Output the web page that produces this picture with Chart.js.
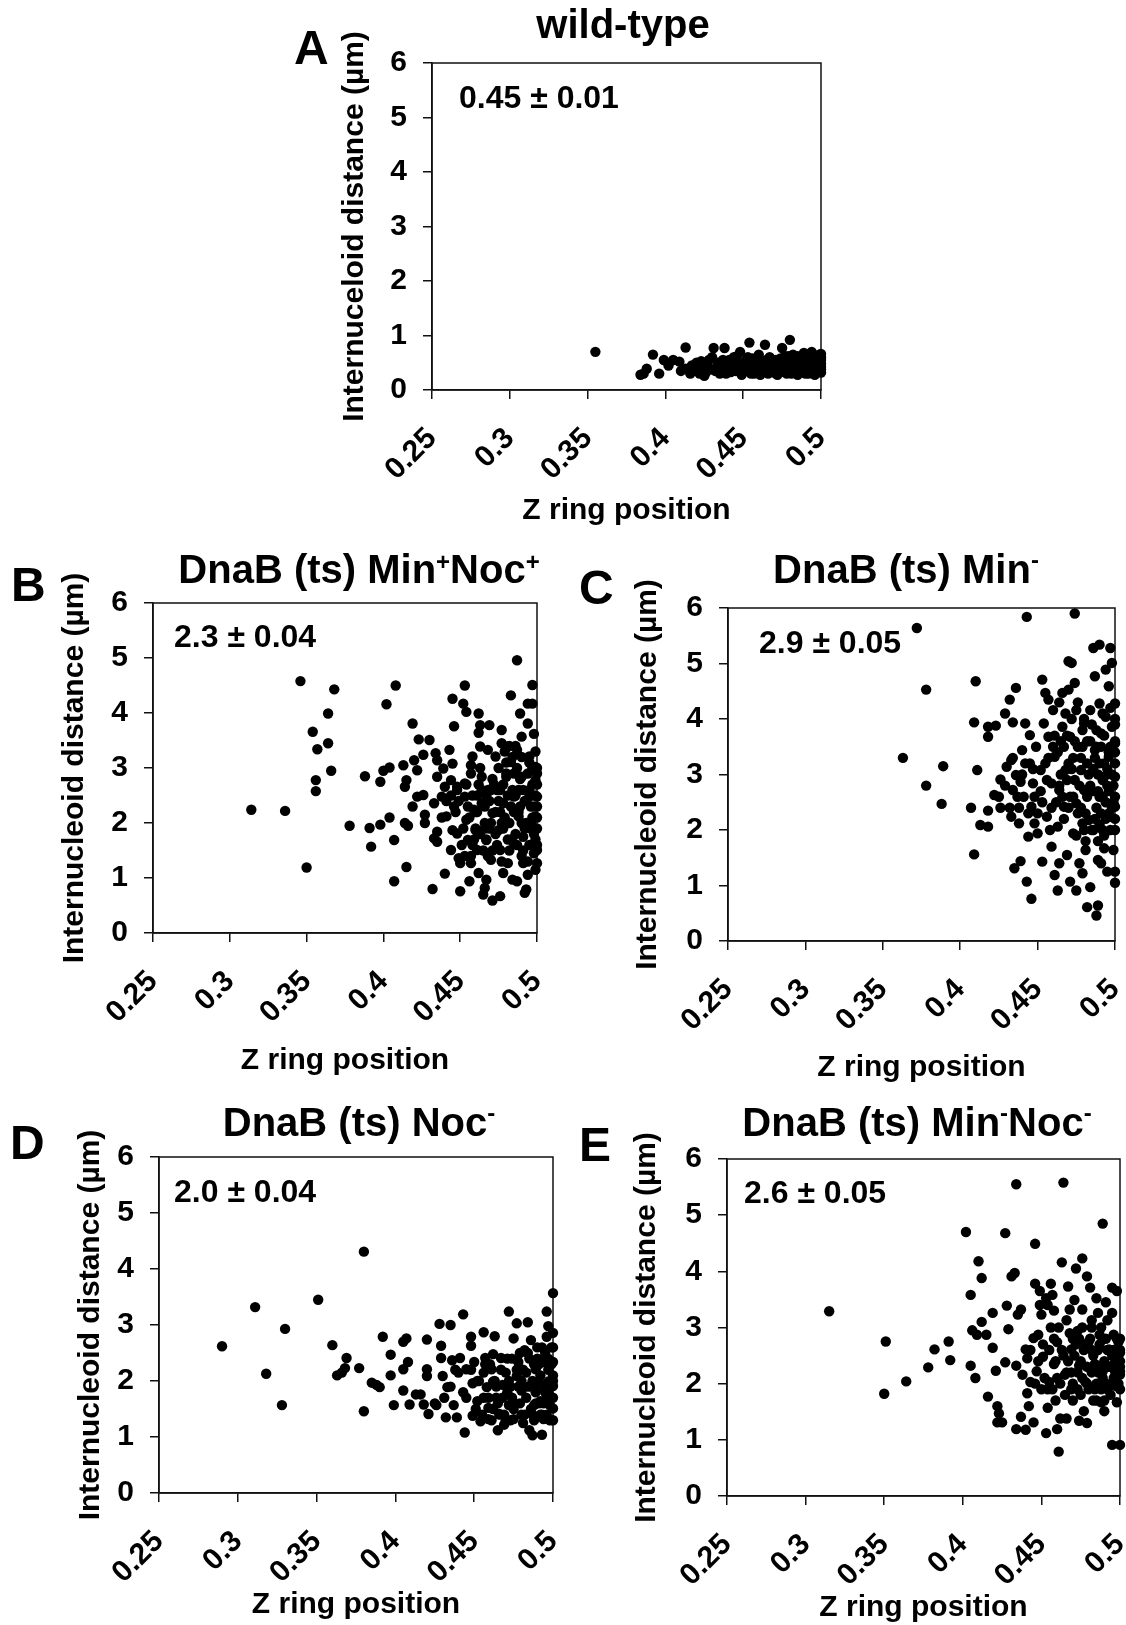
<!DOCTYPE html>
<html>
<head>
<meta charset="utf-8">
<script src="https://cdn.jsdelivr.net/npm/chart.js@4.4.1/dist/chart.umd.min.js"></script>
<style>
	body { margin: 0; width: 1126px; height: 1625px; background: #fff; position: relative; overflow: hidden;
		font-family: "Liberation Sans", Arial, sans-serif; font-weight: bold; color: #000; }
	canvas { position: absolute; }
	.txt { position: absolute; white-space: nowrap; line-height: 1; }
	.sp { position: relative; font-size: 0.6em; top: -0.55em; }
	.sm { position: relative; font-size: 0.6em; top: -0.65em; }
</style>
</head>
<body>
<script>
	'use strict';

	// Axis ticks (shared by all panels)
	const xTickVals = [0.25, 0.3, 0.35, 0.4, 0.45, 0.5];
	const xTickLabels = ['0.25', '0.3', '0.35', '0.4', '0.45', '0.5'];
	const yTickVals = [0, 1, 2, 3, 4, 5, 6];
	const yTickLabels = ['0', '1', '2', '3', '4', '5', '6'];

	const panelLetters = ['A', 'B', 'C', 'D', 'E'];
	const panelTitles = [
		'wild-type',
		'DnaB (ts) Min<span class="sp">+</span>Noc<span class="sp">+</span>',
		'DnaB (ts) Min<span class="sm">-</span>',
		'DnaB (ts) Noc<span class="sm">-</span>',
		'DnaB (ts) Min<span class="sm">-</span>Noc<span class="sm">-</span>'
	];
	const meanLabels = ['0.45 \u00b1 0.01', '2.3 \u00b1 0.04', '2.9 \u00b1 0.05', '2.0 \u00b1 0.04', '2.6 \u00b1 0.05'];
	const yTitles = ['Internuceloid distance (\u00b5m)', 'Internucleoid distance (\u00b5m)', 'Internucleoid distance (\u00b5m)',
		'Internucleoid distance (\u00b5m)', 'Internucleoid distance (\u00b5m)'];
	const xTitle = 'Z ring position';

	// [Z ring position, internucleoid distance]
	const wildTypePts = [
		[0.355,0.70],[0.384,0.28],[0.386,0.30],[0.388,0.39],[0.392,0.65],[0.396,0.30],[0.399,0.55],[0.402,0.45],
		[0.405,0.55],[0.409,0.52],[0.410,0.35],[0.413,0.78],[0.413,0.39],[0.416,0.30],[0.417,0.45],[0.418,0.35],
		[0.420,0.50],[0.421,0.38],[0.423,0.53],[0.424,0.40],[0.425,0.26],[0.426,0.32],[0.427,0.45],[0.428,0.55],
		[0.430,0.60],[0.431,0.77],[0.432,0.35],[0.433,0.42],[0.434,0.50],[0.436,0.42],[0.437,0.55],[0.438,0.77],
		[0.439,0.30],[0.440,0.38],[0.441,0.55],[0.443,0.45],[0.444,0.60],[0.445,0.35],[0.446,0.62],[0.447,0.48],
		[0.448,0.70],[0.449,0.28],[0.450,0.33],[0.451,0.50],[0.452,0.40],[0.453,0.60],[0.454,0.87],[0.455,0.30],
		[0.456,0.58],[0.457,0.30],[0.458,0.45],[0.459,0.35],[0.460,0.65],[0.461,0.28],[0.462,0.48],[0.463,0.52],
		[0.464,0.83],[0.465,0.40],[0.466,0.30],[0.467,0.60],[0.468,0.45],[0.469,0.40],[0.470,0.35],[0.471,0.55],
		[0.472,0.28],[0.473,0.48],[0.474,0.33],[0.475,0.77],[0.475,0.38],[0.476,0.52],[0.477,0.62],[0.478,0.30],
		[0.479,0.50],[0.480,0.92],[0.481,0.42],[0.482,0.65],[0.483,0.33],[0.484,0.55],[0.485,0.28],[0.486,0.45],
		[0.487,0.60],[0.488,0.38],[0.489,0.68],[0.490,0.30],[0.491,0.50],[0.492,0.42],[0.493,0.62],[0.494,0.70],
		[0.494,0.33],[0.495,0.55],[0.496,0.28],[0.497,0.45],[0.498,0.60],[0.498,0.38],[0.499,0.52],[0.500,0.66],
		[0.500,0.42],[0.500,0.32],[0.500,0.55],[0.500,0.48],
		[0.422,0.30],[0.429,0.38],[0.435,0.30],[0.442,0.33],[0.445,0.50],[0.450,0.42],[0.452,0.55],[0.455,0.40],
		[0.457,0.50],[0.459,0.55],[0.461,0.40],[0.463,0.35],[0.465,0.55],[0.467,0.38],[0.469,0.50],[0.471,0.30],
		[0.472,0.42],[0.474,0.58],[0.476,0.45],[0.478,0.40],[0.479,0.62],[0.481,0.30],[0.482,0.50],[0.484,0.38],
		[0.485,0.62],[0.487,0.33],[0.488,0.52],[0.490,0.44],[0.491,0.60],[0.492,0.30],[0.493,0.50],[0.495,0.40],
		[0.496,0.62],[0.497,0.33],[0.498,0.50],[0.499,0.42],[0.499,0.65],[0.500,0.38],[0.500,0.60],[0.440,0.48],
		[0.447,0.38],[0.453,0.35]
	];

	const minPlusNocPlusPts = [
		[0.314,2.24],[0.336,2.22],[0.346,4.58],[0.350,1.19],[0.354,3.66],[0.357,3.34],[0.356,2.78],[0.356,2.58],
		[0.364,3.45],[0.364,3.99],[0.366,2.95],[0.368,4.43],[0.378,1.95],[0.388,2.85],[0.391,1.91],[0.392,1.57],
		[0.398,2.75],[0.398,1.97],[0.400,2.95],[0.402,4.16],[0.404,3.01],[0.404,2.10],[0.407,1.69],[0.407,0.94],
		[0.408,4.50],[0.413,3.05],[0.414,2.66],[0.414,2.00],[0.415,1.20],[0.416,1.95],[0.415,2.78],[0.419,3.81],
		[0.419,2.30],[0.420,3.14],[0.422,2.96],[0.423,3.52],[0.426,3.24],[0.422,2.48],[0.426,2.51],[0.427,2.15],
		[0.427,2.00],[0.430,3.51],[0.432,0.80],[0.433,2.36],[0.433,1.72],[0.434,3.27],[0.435,3.14],[0.435,2.84],
		[0.435,1.84],[0.435,1.66],[0.438,2.48],[0.439,2.99],[0.440,1.08],[0.440,2.66],[0.441,2.12],[0.443,3.33],
		[0.444,2.78],[0.445,3.08],[0.445,1.87],[0.445,4.26],[0.446,3.76],[0.444,1.51],[0.446,2.30],[0.448,2.66],
		[0.448,1.81],[0.449,1.36],[0.450,0.76],[0.450,1.27],[0.452,4.17],[0.453,4.50],[0.454,4.02],[0.453,2.48],
		[0.453,2.72],[0.454,2.06],[0.455,1.69],[0.456,0.94],[0.457,1.27],[0.457,3.05],[0.458,3.21],[0.459,2.24],
		[0.460,1.87],[0.461,1.51],[0.462,1.09],[0.462,3.99],[0.462,3.64],[0.463,3.78],[0.463,3.39],[0.464,2.84],
		[0.464,2.36],[0.465,0.70],[0.466,0.82],[0.466,2.00],[0.467,0.97],[0.467,1.69],[0.468,2.60],[0.469,3.78],
		[0.468,3.33],[0.470,1.33],[0.471,0.59],[0.471,2.18],[0.473,3.21],[0.474,2.60],[0.475,1.87],[0.476,0.67],
		[0.476,1.51],[0.477,3.69],[0.477,3.45],[0.478,2.36],[0.478,1.09],[0.480,2.84],[0.481,3.39],[0.481,1.27],
		[0.482,2.00],[0.483,4.32],[0.483,3.11],[0.484,0.97],[0.485,1.63],[0.485,2.48],[0.487,4.96],[0.487,3.33],
		[0.487,0.94],[0.488,2.12],[0.489,3.99],[0.490,3.57],[0.490,2.84],[0.491,1.27],[0.491,1.75],[0.492,0.73],
		[0.493,0.79],[0.494,1.06],[0.494,4.17],[0.494,3.81],[0.495,2.48],[0.495,3.21],[0.496,2.00],[0.497,4.17],
		[0.497,4.51],[0.498,3.62],[0.498,1.45],[0.499,2.78],[0.499,3.02],[0.499,1.15],[0.500,1.51],[0.500,1.27],
		[0.500,2.48],[0.500,2.30],[0.499,2.12],
		[0.452,1.90],[0.456,2.10],[0.458,1.60],[0.461,2.50],[0.463,1.80],[0.466,2.30],[0.468,1.40],[0.470,2.00],
		[0.472,2.70],[0.474,1.60],[0.476,2.20],[0.478,1.90],[0.480,2.90],[0.482,1.50],[0.484,2.60],[0.486,1.80],
		[0.487,3.00],[0.489,2.30],[0.490,1.40],[0.491,2.60],[0.492,1.90],[0.494,2.90],[0.495,1.60],[0.496,2.30],
		[0.497,2.70],[0.498,1.80],[0.499,2.50],[0.500,2.90],[0.500,1.90],[0.500,2.70],[0.449,2.40],[0.451,1.60],
		[0.454,2.70],[0.457,1.40],[0.460,1.90],[0.464,2.60],[0.467,1.70],[0.469,2.40],[0.471,1.50],[0.473,2.20],
		[0.475,3.00],[0.477,1.30],[0.479,2.10],[0.481,2.50],[0.483,1.70],[0.485,2.20],[0.488,2.60],[0.490,2.00],
		[0.493,2.40],[0.495,3.10],[0.497,2.10],[0.499,3.30],[0.486,3.40],[0.484,3.20],[0.480,3.10],[0.476,2.60],
		[0.462,2.70],[0.458,2.50],[0.448,2.60],[0.444,2.50],[0.441,2.40],[0.438,2.10],
		[0.455,2.30],[0.457,2.90],[0.459,1.70],[0.461,2.20],[0.463,3.00],[0.465,1.50],[0.467,2.50],[0.469,1.90],
		[0.471,2.80],[0.473,1.80],[0.475,2.40],[0.477,2.00],[0.479,3.30],[0.481,1.70],[0.483,2.30],[0.485,2.90],
		[0.487,1.60],[0.488,2.20],[0.489,2.80],[0.490,3.20],[0.491,1.50],[0.492,2.40],[0.493,2.00],[0.494,1.30],
		[0.495,2.60],[0.496,1.90],[0.497,3.00],[0.498,2.30],[0.499,1.70],[0.500,2.10],[0.500,3.00],[0.500,1.60],
		[0.482,3.40],[0.486,2.50],[0.478,2.70],[0.470,2.60],[0.466,1.90],[0.460,2.20],[0.453,1.40],[0.447,2.20]
	];

	const minMinusPts = [
		[0.363,3.30],[0.372,5.64],[0.378,2.80],[0.378,4.53],[0.388,2.47],[0.389,3.15],[0.407,2.40],[0.409,1.56],
		[0.409,3.94],[0.410,4.68],[0.411,3.08],[0.413,2.09],[0.418,2.06],[0.418,2.35],[0.418,3.68],[0.418,3.86],
		[0.423,3.88],[0.422,2.63],[0.425,2.60],[0.426,2.91],[0.429,4.10],[0.430,3.14],[0.432,4.35],[0.433,3.26],
		[0.433,2.24],[0.434,3.94],[0.434,2.72],[0.435,1.31],[0.436,4.56],[0.436,2.99],[0.438,2.12],[0.439,2.87],
		[0.439,1.44],[0.440,3.44],[0.441,2.60],[0.442,3.92],[0.443,5.84],[0.443,1.07],[0.444,1.88],[0.445,3.71],
		[0.445,3.20],[0.446,0.76],[0.446,2.42],[0.447,2.84],[0.448,2.12],[0.449,3.50],[0.450,1.94],[0.452,3.08],
		[0.453,4.71],[0.453,1.43],[0.454,3.92],[0.455,4.47],[0.456,2.24],[0.457,3.68],[0.457,4.35],[0.459,2.84],
		[0.459,1.70],[0.460,4.16],[0.461,1.19],[0.461,3.32],[0.463,0.91],[0.463,2.06],[0.464,1.40],[0.464,2.72],
		[0.466,3.86],[0.466,4.47],[0.467,2.42],[0.468,3.08],[0.469,1.55],[0.470,5.04],[0.470,4.53],[0.471,1.07],
		[0.471,3.68],[0.472,5.01],[0.473,1.94],[0.474,5.90],[0.474,4.65],[0.475,0.91],[0.475,4.16],[0.475,2.48],
		[0.476,3.50],[0.477,1.40],[0.478,3.08],[0.479,2.12],[0.479,1.22],[0.480,3.92],[0.480,2.72],[0.481,1.64],
		[0.482,3.20],[0.482,0.61],[0.483,2.18],[0.484,0.97],[0.484,4.16],[0.486,5.28],[0.487,4.77],[0.487,3.44],
		[0.488,0.46],[0.489,0.64],[0.489,1.46],[0.490,5.34],[0.490,4.28],[0.490,2.60],[0.491,3.74],[0.491,1.40],
		[0.492,2.00],[0.493,2.96],[0.493,1.67],[0.494,4.89],[0.494,4.04],[0.495,1.25],[0.496,3.32],[0.496,4.59],
		[0.497,5.28],[0.497,2.24],[0.498,3.86],[0.498,5.01],[0.499,1.64],[0.500,1.05],[0.500,2.96],[0.500,1.25],
		[0.500,4.28],[0.500,2.42],[0.500,3.56],
		[0.452,2.70],[0.455,3.20],[0.458,2.00],[0.460,3.50],[0.462,2.50],[0.465,3.00],[0.467,2.20],[0.469,3.70],
		[0.471,2.60],[0.473,3.30],[0.475,1.90],[0.477,2.80],[0.479,3.50],[0.481,2.30],[0.483,3.00],[0.485,2.00],
		[0.486,2.70],[0.487,3.30],[0.488,2.40],[0.489,3.00],[0.490,2.10],[0.491,3.50],[0.492,2.60],[0.493,3.20],
		[0.494,2.20],[0.495,2.80],[0.496,3.40],[0.497,2.00],[0.498,3.00],[0.499,2.50],[0.500,3.20],[0.500,2.00],
		[0.500,3.60],[0.486,2.00],[0.484,3.60],[0.482,2.60],[0.478,2.40],[0.474,2.90],[0.470,3.20],[0.466,2.60],
		[0.463,3.40],[0.459,2.40],[0.456,2.90],[0.450,2.30],[0.447,3.10],[0.444,2.30],[0.440,3.00],[0.437,2.60],
		[0.434,3.30],[0.432,2.40],[0.429,2.80],[0.426,2.40],[0.489,1.80],[0.493,1.90],[0.496,2.30],[0.481,1.80],
		[0.476,4.30],[0.472,4.00],[0.468,4.10],[0.464,4.30],[0.480,4.00],[0.488,3.80],[0.492,4.10],[0.497,4.20],
		[0.500,4.00],[0.500,3.90],
		[0.461,3.70],[0.464,2.80],[0.467,3.50],[0.470,2.40],[0.472,3.10],[0.474,3.60],[0.476,2.30],[0.478,3.30],
		[0.480,2.00],[0.482,3.60],[0.484,2.80],[0.486,3.10],[0.487,2.20],[0.488,3.50],[0.489,2.70],[0.490,3.20],
		[0.491,2.30],[0.492,2.90],[0.493,3.70],[0.494,2.50],[0.495,3.10],[0.496,2.70],[0.497,3.50],[0.498,2.40],
		[0.499,2.80],[0.500,2.60],[0.500,3.40],[0.500,2.20],[0.485,3.90],[0.479,3.80],[0.473,2.60],[0.469,2.90],
		[0.465,3.60],[0.457,3.30],[0.453,2.50],[0.448,2.60],[0.442,3.20],[0.438,2.40]
	];

	const nocMinusPts = [
		[0.290,2.62],[0.311,3.32],[0.318,2.13],[0.328,1.57],[0.330,2.93],[0.351,3.45],[0.360,2.64],[0.363,2.10],
		[0.366,2.15],[0.368,2.23],[0.369,2.41],[0.377,2.23],[0.380,1.46],[0.380,4.31],[0.385,1.97],[0.388,1.93],
		[0.390,1.89],[0.392,2.79],[0.397,2.47],[0.397,2.10],[0.399,1.57],[0.405,2.70],[0.407,2.76],[0.405,2.21],
		[0.405,1.83],[0.408,2.34],[0.409,1.58],[0.413,1.76],[0.416,1.76],[0.418,1.58],[0.420,2.74],[0.420,2.21],
		[0.420,2.09],[0.421,1.41],[0.426,1.57],[0.428,3.02],[0.429,2.63],[0.429,2.41],[0.430,2.09],[0.431,1.70],
		[0.432,1.35],[0.433,1.89],[0.435,3.00],[0.436,2.37],[0.437,1.57],[0.439,1.35],[0.440,2.15],[0.441,2.41],
		[0.443,3.19],[0.443,1.80],[0.444,1.08],[0.445,2.21],[0.448,2.79],[0.448,2.63],[0.449,1.38],[0.449,1.96],
		[0.450,2.34],[0.452,1.64],[0.454,1.28],[0.456,2.87],[0.456,2.15],[0.457,2.41],[0.458,1.89],[0.459,1.52],
		[0.459,1.32],[0.461,2.21],[0.462,2.48],[0.462,1.99],[0.463,2.80],[0.464,1.70],[0.465,1.12],[0.466,1.41],
		[0.467,2.41],[0.468,1.93],[0.469,1.22],[0.470,2.15],[0.472,3.24],[0.472,1.57],[0.474,1.70],[0.475,2.76],
		[0.475,1.32],[0.477,2.09],[0.477,3.03],[0.478,2.34],[0.480,1.83],[0.481,1.25],[0.482,2.55],[0.483,2.15],
		[0.484,3.05],[0.485,1.12],[0.486,2.73],[0.487,1.03],[0.488,1.57],[0.489,2.21],[0.490,2.60],[0.490,1.96],
		[0.492,1.64],[0.493,1.04],[0.494,2.34],[0.494,1.32],[0.496,3.24],[0.496,2.79],[0.497,1.99],[0.497,2.98],
		[0.498,1.57],[0.499,2.60],[0.500,2.86],[0.500,3.57],[0.500,1.91],[0.500,1.51],[0.500,2.34],
		[0.445,1.70],[0.448,2.20],[0.451,1.50],[0.453,2.00],[0.455,1.40],[0.457,2.30],[0.459,1.70],[0.461,1.30],
		[0.463,2.00],[0.465,1.60],[0.467,2.20],[0.469,1.40],[0.471,1.80],[0.473,1.30],[0.474,2.40],[0.476,1.60],
		[0.478,1.90],[0.480,1.40],[0.481,2.20],[0.483,1.70],[0.485,2.40],[0.486,1.50],[0.487,2.00],[0.488,1.30],
		[0.489,1.80],[0.490,2.40],[0.491,1.60],[0.492,2.10],[0.493,1.40],[0.494,1.90],[0.495,2.50],[0.496,1.70],
		[0.497,2.20],[0.498,1.30],[0.499,2.00],[0.500,2.10],[0.500,1.70],[0.500,2.60],[0.466,1.40],[0.472,2.00],
		[0.479,2.50],[0.484,1.90],[0.491,2.30],[0.494,1.60],[0.497,1.80],[0.435,1.90],[0.425,1.60],[0.438,2.20],
		[0.452,2.00],[0.456,1.70],[0.460,2.30],[0.462,1.50],[0.464,1.90],[0.468,1.70],[0.470,1.30],[0.471,2.40],
		[0.473,1.90],[0.475,1.50],[0.477,2.20],[0.479,1.60],[0.480,2.00],[0.482,1.40],[0.484,2.50],[0.486,1.90],
		[0.487,1.40],[0.488,2.30],[0.489,1.60],[0.491,2.00],[0.492,1.40],[0.493,2.60],[0.495,1.80],[0.496,1.40],
		[0.497,2.40],[0.498,1.70],[0.499,2.30],[0.500,1.30],[0.500,2.00]
	];

	const minMinusNocMinusPts = [
		[0.315,3.29],[0.350,1.82],[0.351,2.75],[0.364,2.04],[0.378,2.29],[0.382,2.61],[0.391,2.75],[0.392,2.42],
		[0.402,4.70],[0.405,3.58],[0.405,2.32],[0.406,2.95],[0.408,2.10],[0.409,2.87],[0.410,4.18],[0.412,3.88],
		[0.412,3.10],[0.415,2.87],[0.416,1.77],[0.419,3.26],[0.419,2.64],[0.421,2.23],[0.422,1.60],[0.422,1.31],
		[0.423,1.47],[0.425,1.31],[0.427,2.38],[0.427,4.68],[0.428,3.39],[0.429,2.97],[0.431,3.91],[0.433,3.97],
		[0.434,5.55],[0.434,2.32],[0.434,1.19],[0.435,3.23],[0.437,3.32],[0.437,1.41],[0.438,2.16],[0.440,2.61],
		[0.440,1.18],[0.441,1.83],[0.441,2.45],[0.442,1.60],[0.443,2.03],[0.445,2.81],[0.445,1.31],[0.446,4.49],
		[0.446,3.78],[0.447,2.22],[0.448,2.87],[0.449,3.65],[0.450,1.90],[0.450,3.23],[0.451,2.48],[0.453,3.52],
		[0.453,1.12],[0.454,1.57],[0.455,2.03],[0.456,3.78],[0.456,3.00],[0.457,3.58],[0.458,2.35],[0.459,1.70],
		[0.460,1.19],[0.460,2.74],[0.461,0.79],[0.462,1.38],[0.463,4.16],[0.464,5.58],[0.465,2.16],[0.466,3.13],
		[0.466,1.38],[0.467,3.73],[0.468,3.32],[0.469,2.61],[0.469,1.90],[0.471,3.49],[0.472,4.05],[0.473,2.94],
		[0.474,1.34],[0.474,2.32],[0.476,4.23],[0.476,3.32],[0.477,1.51],[0.478,2.03],[0.479,1.30],[0.479,3.91],
		[0.480,2.74],[0.481,3.71],[0.482,3.13],[0.483,1.70],[0.484,2.35],[0.485,3.52],[0.486,3.26],[0.487,2.87],
		[0.488,1.67],[0.489,4.85],[0.489,2.22],[0.490,1.51],[0.491,3.45],[0.492,3.13],[0.493,2.61],[0.494,1.99],
		[0.495,3.26],[0.495,0.91],[0.495,3.71],[0.496,2.87],[0.497,1.96],[0.498,3.65],[0.498,1.67],[0.499,2.74],
		[0.500,0.91],[0.500,2.22],[0.500,2.16],[0.500,2.55],
		[0.452,2.10],[0.455,2.60],[0.457,1.90],[0.459,2.40],[0.461,3.00],[0.462,2.00],[0.464,2.50],[0.466,2.20],
		[0.468,2.90],[0.470,2.00],[0.471,2.50],[0.473,2.20],[0.474,2.80],[0.476,2.10],[0.477,2.60],[0.479,2.30],
		[0.480,1.90],[0.481,2.80],[0.482,2.20],[0.483,2.50],[0.485,2.00],[0.486,2.60],[0.487,2.30],[0.488,1.90],
		[0.489,2.80],[0.490,2.40],[0.491,2.00],[0.492,2.60],[0.493,2.30],[0.494,1.80],[0.495,2.50],[0.496,2.10],
		[0.497,2.40],[0.498,2.80],[0.499,2.00],[0.500,2.40],[0.500,2.60],[0.500,1.90],[0.448,2.40],[0.446,2.00],
		[0.443,2.60],[0.449,3.40],[0.454,3.40],[0.458,3.30],[0.470,1.70],[0.475,1.80],[0.485,1.70],[0.490,1.70],
		[0.496,2.00],
		[0.451,2.70],[0.454,1.90],[0.458,2.80],[0.460,2.10],[0.463,2.60],[0.465,1.80],[0.467,2.40],[0.469,2.20],
		[0.472,2.70],[0.473,1.90],[0.475,2.40],[0.478,2.70],[0.479,2.00],[0.482,2.60],[0.484,1.90],[0.486,2.20],
		[0.487,2.70],[0.489,2.10],[0.491,2.80],[0.492,1.90],[0.494,2.30],[0.496,2.60],[0.497,2.20],[0.499,2.40],
		[0.500,2.80],[0.500,2.30],[0.488,3.00],[0.482,3.00],[0.476,3.00],[0.470,2.80]
	];

	const panelData = [wildTypePts, minPlusNocPlusPts, minMinusPts, nocMinusPts, minMinusNocMinusPts];

	// Page layout of each panel: plot box, axis-title centres, title / letter / mean label anchors
	const layout = [
		{ L: 432, R: 821, T: 63, B: 390, yt: 355, xt: 511, tx: 623, tb: 38, lx: 294, lb: 65, mx: 459, mb: 108 },
		{ L: 153, R: 537, T: 603, B: 933, yt: 75, xt: 1061, tx: 359, tb: 583, lx: 11, lb: 602, mx: 174, mb: 647 },
		{ L: 728, R: 1115, T: 608, B: 941, yt: 648, xt: 1068, tx: 906, tb: 583, lx: 579, lb: 605, mx: 759, mb: 653 },
		{ L: 159, R: 553, T: 1157, B: 1493, yt: 91, xt: 1605, tx: 359, tb: 1136, lx: 10, lb: 1160, mx: 174, mb: 1202 },
		{ L: 727, R: 1120, T: 1159, B: 1496, yt: 647, xt: 1608, tx: 917, tb: 1136, lx: 579, lb: 1162, mx: 744, mb: 1203 }
	];

	const FAMILY = '"Liberation Sans", Arial, sans-serif';
	const TICK_FONT = { family: FAMILY, size: 30, weight: 'bold', lineHeight: 1.2 };
	const AXIS_FONT = { family: FAMILY, size: 30, weight: 'bold', lineHeight: 1.2 };
	const PAD_TOP = 56;
	const PAD_RIGHT = 24;

	// plot frame (top and right sides too)
	const frame = {
		id: 'frame',
		beforeDatasetsDraw: function(chart) {
			const a = chart.chartArea, ctx = chart.ctx;
			ctx.save();
			ctx.strokeStyle = '#111';
			ctx.lineWidth = 1.5;
			ctx.strokeRect(a.left, a.top, a.right - a.left, a.bottom - a.top);
			ctx.restore();
		}
	};

	// fixed axis box sizes, no extra label margins
	function fixBox(s, w, h) {
		if (w !== null) s.width = w;
		if (h !== null) s.height = h;
		s.paddingLeft = 0; s.paddingRight = 0; s.paddingTop = 0; s.paddingBottom = 0;
	}

	// text placed by its baseline (line-height 1 -> baseline at 0.8465em for Liberation Sans)
	function addText(html, size, left, baseline, centred) {
		const d = document.createElement('div');
		d.className = 'txt';
		d.style.fontSize = size + 'px';
		d.style.top = (baseline - 0.8465 * size) + 'px';
		if (centred) {
			d.style.left = (left - 400) + 'px';
			d.style.width = '800px';
			d.style.textAlign = 'center';
		} else {
			d.style.left = left + 'px';
		}
		d.innerHTML = html;
		document.body.appendChild(d);
	}

	function makePanel(i) {
		const p = layout[i];
		const half = AXIS_FONT.size * AXIS_FONT.lineHeight / 2;
		const cl = Math.round(p.yt - half);
		const ct = p.T - PAD_TOP;
		const cw = p.R + PAD_RIGHT - cl;
		const ch = Math.round(p.xt + half) - ct;
		const wy = p.L - cl;
		const hx = ch - (p.B - ct);

		const c = document.createElement('canvas');
		c.width = cw; c.height = ch;
		c.style.left = cl + 'px'; c.style.top = ct + 'px';
		c.style.width = cw + 'px'; c.style.height = ch + 'px';
		document.body.appendChild(c);

		new Chart(c, {
			type: 'scatter',
			data: {
				datasets: [{
					data: panelData[i].map(function(d){ return { x: d[0], y: d[1] }; }),
					backgroundColor: '#000',
					borderWidth: 0,
					pointRadius: 5.2,
					pointHoverRadius: 5.2,
					clip: false
				}]
			},
			options: {
				responsive: false,
				animation: false,
				devicePixelRatio: 1,
				events: [],
				layout: { padding: { top: PAD_TOP, right: PAD_RIGHT, left: 0, bottom: 0 } },
				plugins: { legend: { display: false }, tooltip: { enabled: false } },
				scales: {
					x: {
						type: 'linear', min: 0.25, max: 0.5,
						afterBuildTicks: function(s){ s.ticks = xTickVals.map(function(v){ return { value: v }; }); },
						afterFit: function(s){ fixBox(s, null, hx); },
						ticks: {
							autoSkip: false, minRotation: 45, maxRotation: 45, padding: 22,
							color: '#000', font: TICK_FONT,
							callback: function(v, idx){ return xTickLabels[idx]; }
						},
						grid: { drawOnChartArea: false, tickLength: 9, color: '#111', lineWidth: 1.5 },
						border: { color: '#111', width: 1.5 },
						title: { display: true, text: xTitle, color: '#000', font: AXIS_FONT, padding: 0 }
					},
					y: {
						type: 'linear', min: 0, max: 6,
						afterBuildTicks: function(s){ s.ticks = yTickVals.map(function(v){ return { value: v }; }); },
						afterFit: function(s){ fixBox(s, wy, null); },
						ticks: {
							padding: 16, color: '#000', font: TICK_FONT,
							callback: function(v, idx){ return yTickLabels[idx]; }
						},
						grid: { drawOnChartArea: false, tickLength: 9, color: '#111', lineWidth: 1.5 },
						border: { color: '#111', width: 1.5 },
						title: { display: true, text: yTitles[i], color: '#000', font: AXIS_FONT, padding: 0 }
					}
				}
			},
			plugins: [frame]
		});

		addText(panelTitles[i], 40, p.tx, p.tb, true);
		addText(panelLetters[i], 48, p.lx, p.lb, false);
		addText(meanLabels[i], 32, p.mx, p.mb, false);
	}

	for (let i = 0; i < layout.length; i++) makePanel(i);
</script>
</body>
</html>
